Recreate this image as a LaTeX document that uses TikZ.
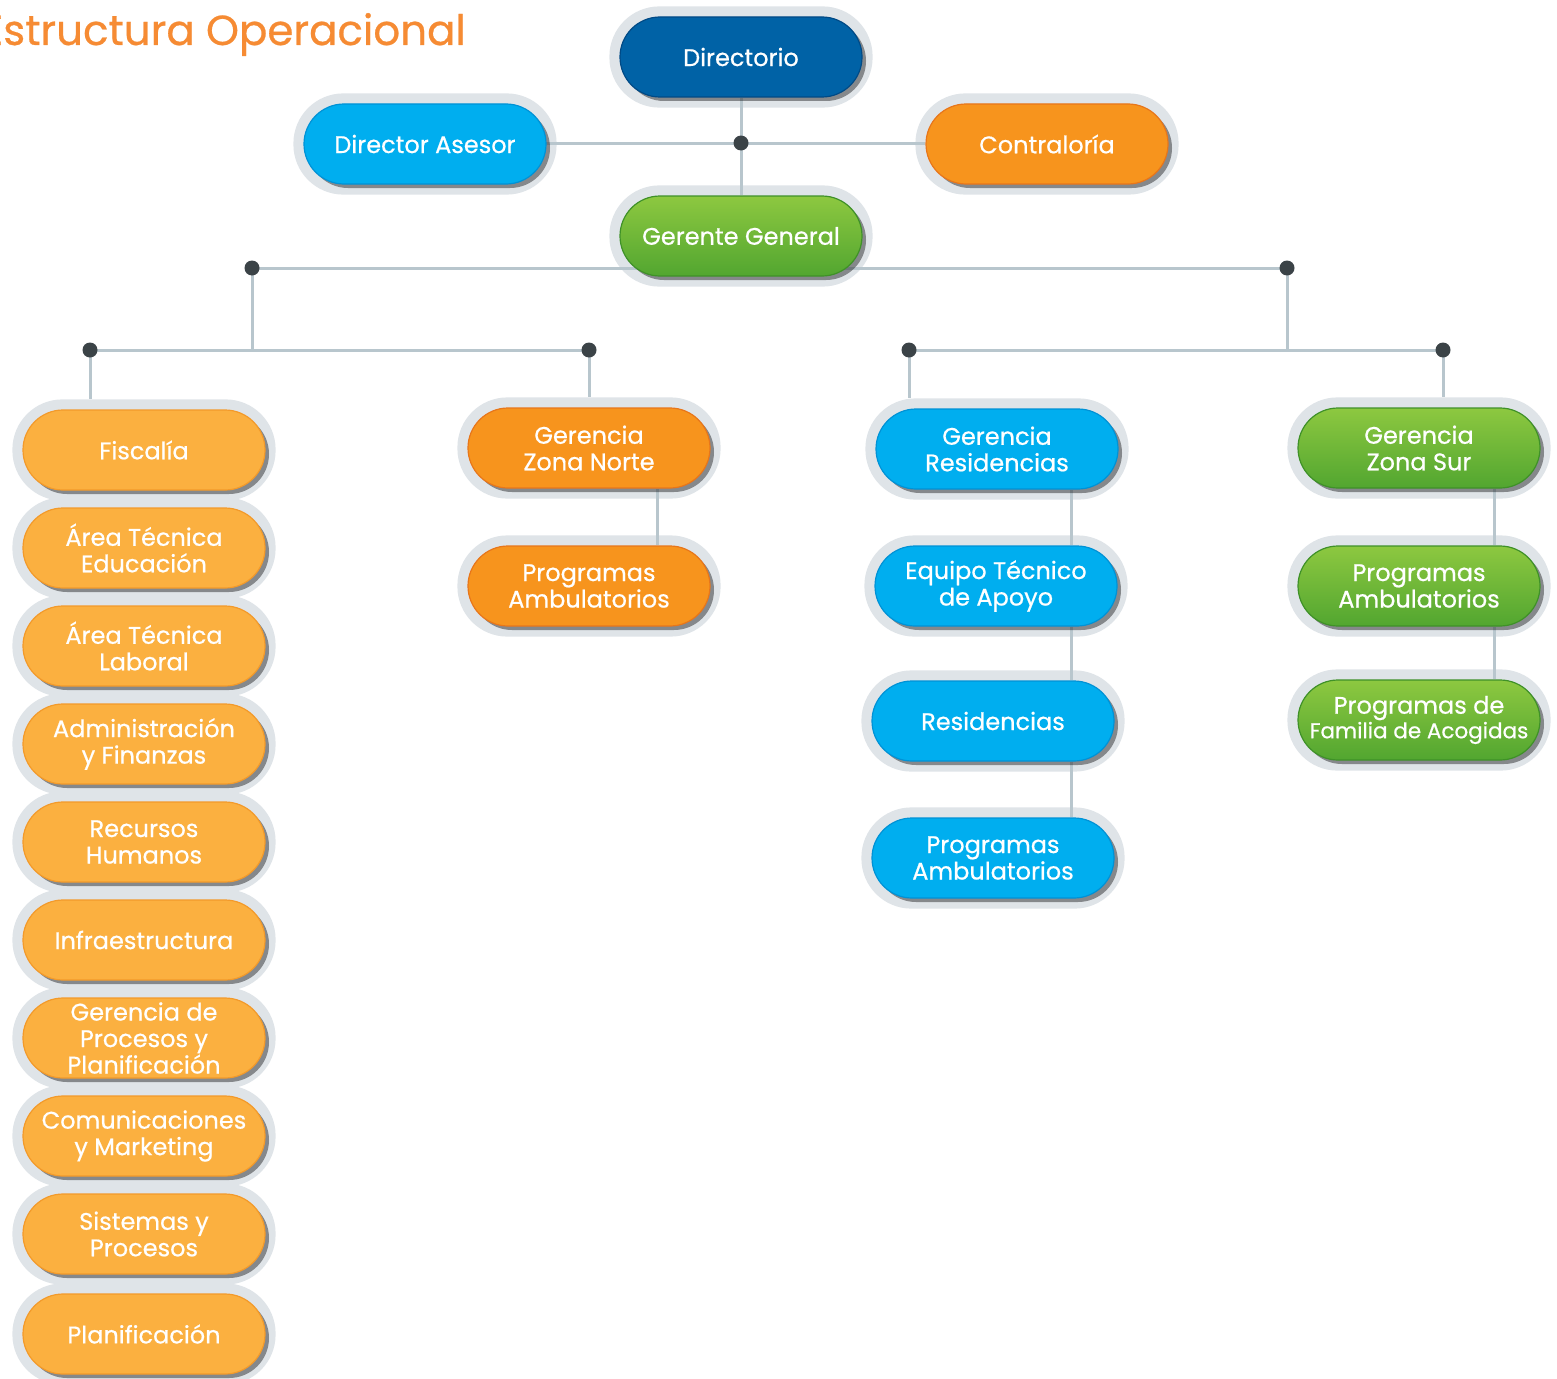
\documentclass[tikz,border=0pt]{standalone}
\usepackage{fontspec}
\setmainfont{Poppins}
\newfontfamily\pillfont{Poppins}[FakeBold=0.6]
\usetikzlibrary{shadows}
\definecolor{halocol}{HTML}{DFE4E8}
\definecolor{linecol}{HTML}{B8C6CD}
\definecolor{dotcol}{HTML}{3B4347}
\definecolor{dblue}{HTML}{0062A6}
\definecolor{dbluedk}{HTML}{004A86}
\definecolor{cyanc}{HTML}{00AEEF}
\definecolor{cyandk}{HTML}{0092D6}
\definecolor{orangec}{HTML}{F7941D}
\definecolor{orangedk}{HTML}{E8761A}
\definecolor{lorange}{HTML}{FBB040}
\definecolor{lorangedk}{HTML}{F39A2A}
\definecolor{greentop}{HTML}{8DC840}
\definecolor{greenbot}{HTML}{52A630}
\definecolor{greendk}{HTML}{3F9128}
\definecolor{titlecol}{HTML}{F68B33}
\pgfdeclarelayer{bg}
\pgfdeclarelayer{halo}
\pgfdeclarelayer{lines}
\pgfsetlayers{bg,halo,lines,main}
\tikzset{
  pill/.style={rectangle, rounded corners=40pt, minimum width=242pt, minimum height=80pt,
    inner sep=1pt, text=white, align=center, font=\pillfont\fontsize{24}{26.5}\selectfont,
    line width=1.2pt,
    drop shadow={shadow xshift=4pt, shadow yshift=-4pt, fill=black, opacity=0.4}},
  dbluep/.style={pill, fill=dblue, draw=dbluedk},
  cyanp/.style={pill, fill=cyanc, draw=cyandk},
  orangep/.style={pill, fill=orangec, draw=orangedk},
  lorangep/.style={pill, fill=lorange, draw=lorangedk},
  greenp/.style={pill, top color=greentop, bottom color=greenbot, draw=greendk},
  conn/.style={draw=linecol, line width=3pt},
  jdot/.style={fill=dotcol},
}
\newcommand\pill[4]{%
  \node[#3] (#1) at (#2) {#4};
  \begin{pgfonlayer}{halo}
    \fill[halocol, rounded corners=50pt] ([shift={(-10pt,10pt)}]#1.north west) rectangle ([shift={(10pt,-10pt)}]#1.south east);
  \end{pgfonlayer}}
\begin{document}
\begin{tikzpicture}[x=1pt,y=-1pt]
\useasboundingbox (0,0) rectangle (1557,1378);
\begin{pgfonlayer}{bg}
\fill[white] (0,0) rectangle (1557,1378);
\end{pgfonlayer}
% title
\node[anchor=base east, text=titlecol, font=\pillfont\fontsize{42}{45}\selectfont, inner sep=0pt] (title) at (466,45) {Estructura Operacional};
% top
\pill{dir}{741,57}{dbluep}{Directorio}
\pill{ases}{425,144}{cyanp}{Director Asesor}
\pill{contr}{1047,144}{orangep}{Contraloría}
\pill{ger}{741,236}{greenp}{Gerente General}
% left column
\pill{fisc}{144,450}{lorangep}{Fiscalía}
\pill{edu}{144,548}{lorangep}{Área Técnica\\Educación}
\pill{lab}{144,646}{lorangep}{Área Técnica\\Laboral}
\pill{adm}{144,744}{lorangep}{Administración\\y Finanzas}
\pill{rrhh}{144,842}{lorangep}{Recursos\\Humanos}
\pill{infra}{144,940}{lorangep}{Infraestructura}
\pill{gproc}{144,1038}{lorangep}{Gerencia de\\Procesos y\\Planificación}
\pill{com}{144,1136}{lorangep}{Comunicaciones\\y Marketing}
\pill{sis}{144,1234}{lorangep}{Sistemas y\\Procesos}
\pill{plan}{144,1334}{lorangep}{Planificación}
% norte
\pill{norte}{589,448}{orangep}{Gerencia\\Zona Norte}
\pill{progN}{589,586}{orangep}{Programas\\Ambulatorios}
% residencias
\pill{gres}{997,449}{cyanp}{Gerencia\\Residencias}
\pill{equipo}{996,586}{cyanp}{Equipo Técnico\\de Apoyo}
\pill{resid}{993,721}{cyanp}{Residencias}
\pill{progR}{993,858}{cyanp}{Programas\\Ambulatorios}
% sur
\pill{sur}{1419,448}{greenp}{Gerencia\\Zona Sur}
\pill{progS}{1419,586}{greenp}{Programas\\Ambulatorios}
\pill{fam}{1419,720}{greenp}{Programas de\\[-2pt]{\fontsize{21.5}{24}\selectfont Familia de Acogidas}}
% junction coordinates
\coordinate (jtop) at (741,143);
\coordinate (jL) at (252,268);
\coordinate (jR) at (1287,268);
\coordinate (jLb) at (252,350);
\coordinate (jRb) at (1287,350);
\coordinate (jL1) at (90,350);
\coordinate (jL2) at (589,350);
\coordinate (jR1) at (909,350);
\coordinate (jR2) at (1443,350);
\coordinate (cN) at (657,0);
\coordinate (cR) at (1071,0);
\coordinate (cS) at (1494,0);
\begin{pgfonlayer}{lines}
\draw[conn] (dir.south) -- (ger.north);
\draw[conn] (ases.east) -- (jtop -| ases.east) -- (jtop -| contr.west);
\draw[conn] (jL) -- (jR);
\draw[conn] (jL) -- (jLb);
\draw[conn] (jR) -- (jRb);
\draw[conn] (jL1) -- (jL2);
\draw[conn] (jR1) -- (jR2);
\draw[conn] (jL1) -- ([yshift=10pt]fisc.north -| jL1);
\draw[conn] (jL2) -- ([yshift=10pt]norte.north -| jL2);
\draw[conn] (jR1) -- ([yshift=10pt]gres.north -| jR1);
\draw[conn] (jR2) -- ([yshift=10pt]sur.north -| jR2);
\draw[conn] (norte.south -| cN) -- (progN.north -| cN);
\draw[conn] (gres.south -| cR) -- (equipo.north -| cR);
\draw[conn] (equipo.south -| cR) -- (resid.north -| cR);
\draw[conn] (resid.south -| cR) -- (progR.north -| cR);
\draw[conn] (sur.south -| cS) -- (progS.north -| cS);
\draw[conn] (progS.south -| cS) -- (fam.north -| cS);
\fill[jdot] (jtop) circle (7.5);
\fill[jdot] (jL) circle (7.5);
\fill[jdot] (jR) circle (7.5);
\fill[jdot] (jL1) circle (7.5);
\fill[jdot] (jL2) circle (7.5);
\fill[jdot] (jR1) circle (7.5);
\fill[jdot] (jR2) circle (7.5);
\end{pgfonlayer}
\end{tikzpicture}
\end{document}
